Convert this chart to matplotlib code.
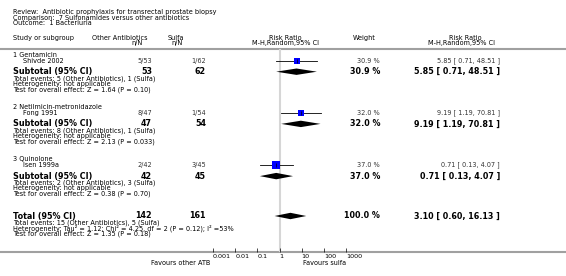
import numpy as np
import matplotlib.pyplot as plt

# ------------------------------------------------------------------
# datos
# ------------------------------------------------------------------
review = 'Review:  Antibiotic prophylaxis for transrectal prostate biopsy'
comparison = 'Comparison:  7 Sulfonamides versus other antibiotics'
outcome = 'Outcome:  1 Bacteriuria'

grupos = ['1 Gentamicin', '2 Netilmicin-metronidazole', '3 Quinolone']
estudios = ['Shivde 2002', 'Fong 1991', 'Isen 1999a']
ev_otros = [5, 8, 2]
n_otros = [53, 47, 42]
ev_sulfa = [1, 1, 3]
n_sulfa = [62, 54, 45]
rr = [5.85, 9.19, 0.71]
rr_lo = [0.71, 1.19, 0.13]
rr_hi = [48.51, 70.81, 4.07]
peso = [30.9, 32.0, 37.0]
z_val = ['1.64', '2.13', '0.38']
p_val = ['0.10', '0.033', '0.70']

tot_ev_otros, tot_n_otros = 15, 142
tot_ev_sulfa, tot_n_sulfa = 5, 161
tot_peso = 100.0
tot_rr, tot_lo, tot_hi = 3.10, 0.60, 16.13
tot_het = 'Heterogeneity: Tau\u00b2 = 1.12; Chi\u00b2 = 4.25, df = 2 (P = 0.12); I\u00b2 =53%'
tot_test = 'Test for overall effect: Z = 1.35 (P = 0.18)'

ticks = [0.001, 0.01, 0.1, 1, 10, 100, 1000]
tick_lbl = ['0.001', '0.01', '0.1', '1', '10', '100', '1000']

# ------------------------------------------------------------------
# figura
# ------------------------------------------------------------------
W, H = 566, 276
fig = plt.figure(figsize=(W / 100, H / 100), dpi=100)
plt.rcParams['font.family'] = 'DejaVu Sans'

bg = fig.add_axes([0, 0, 1, 1])
bg.set_xlim(0, W)
bg.set_ylim(H, 0)
bg.axis('off')

y_top, y_axis = 48.5, 252
x0, x1 = 213, 346
fa = fig.add_axes([x0 / W, (H - y_axis) / H, (x1 - x0) / W, (y_axis - y_top) / H])
fa.set_xscale('log')
fa.set_xlim(1e-3, 1e3)
fa.set_ylim(y_axis, y_top)
fa.patch.set_alpha(0)
for s in ['top', 'right', 'left', 'bottom']:
    fa.spines[s].set_visible(False)
fa.set_yticks([])
fa.set_xticks(ticks)
fa.set_xticklabels(tick_lbl, ha='left')
fa.minorticks_off()
fa.tick_params(axis='x', direction='in', length=3, width=0.5, pad=1.5,
               labelsize=4.6, colors='black')
fa.axvline(1, color='#d6d6d6', lw=1.5, zorder=0)

fs = 4.7
fsb = 5.8
gris = '#a0a0a0'

def txt(x, y, s, size=fs, bold=False, ha='left', color='black'):
    bg.text(x, y, s, fontsize=size, fontweight='bold' if bold else 'normal',
            ha=ha, va='center', color=color)

# cabecera
txt(13, 12.3, review)
txt(13, 17.7, comparison)
txt(13, 23.3, outcome)
txt(13, 37.7, 'Study or subgroup')
txt(148, 37.7, 'Other Antibiotics', ha='right')
txt(143, 42.7, 'n/N', ha='right')
txt(184, 37.7, 'Sulfa', ha='right')
txt(183, 42.7, 'n/N', ha='right')
txt(285, 37.7, 'Risk Ratio', ha='center')
txt(286, 42.7, 'M-H,Random,95% CI', ha='center')
txt(364, 37.7, 'Weight', ha='center')
txt(465, 37.7, 'Risk Ratio', ha='center')
txt(462, 42.7, 'M-H,Random,95% CI', ha='center')

bg.plot([0, W], [y_top, y_top], color=gris, lw=1.5, solid_capstyle='butt')
bg.plot([0, W], [y_axis, y_axis], color=gris, lw=1.5, solid_capstyle='butt')

def diamante(y, est, lo, hi, h=3.2):
    fa.fill([lo, est, hi, est], [y, y - h, y, y + h], color='black', lw=0, clip_on=False)

for i in range(len(grupos)):
    y0 = 55 + 52.2 * i
    ys = y0 + 5.7
    ysub = y0 + 16.7
    txt(13, y0, grupos[i])
    txt(23, ys, estudios[i])
    txt(152, ys, '%d/%d' % (ev_otros[i], n_otros[i]), ha='right', color='#333333')
    txt(206, ys, '%d/%d' % (ev_sulfa[i], n_sulfa[i]), ha='right', color='#333333')
    txt(380, ys, '%.1f %%' % peso[i], ha='right', color='#333333')
    txt(500, ys, '%.2f [ %.2f, %.2f ]' % (rr[i], rr_lo[i], rr_hi[i]), ha='right', color='#333333')

    fa.plot([rr_lo[i], rr_hi[i]], [ys, ys], color='black', lw=0.6, clip_on=False)
    fa.plot(rr[i], ys, marker='s', ms=peso[i] * 0.15, color='#0000ff', mew=0, clip_on=False)
    fa.plot(rr[i], ys, marker='|', ms=2.5, mew=0.5, color='black', clip_on=False)
    diamante(ysub, rr[i], rr_lo[i], rr_hi[i])

    txt(13, ysub, 'Subtotal (95% CI)', size=fsb, bold=True)
    txt(152, ysub, str(n_otros[i]), size=fsb, bold=True, ha='right')
    txt(206, ysub, str(n_sulfa[i]), size=fsb, bold=True, ha='right')
    txt(380, ysub, '%.1f %%' % peso[i], size=fsb, bold=True, ha='right')
    txt(500, ysub, '%.2f [ %.2f, %.2f ]' % (rr[i], rr_lo[i], rr_hi[i]), size=fsb, bold=True, ha='right')
    txt(13, y0 + 23.3, 'Total events: %d (Other Antibiotics), %d (Sulfa)' % (ev_otros[i], ev_sulfa[i]))
    txt(13, y0 + 29, 'Heterogeneity: not applicable')
    txt(13, y0 + 34.3, 'Test for overall effect: Z = %s (P = %s)' % (z_val[i], p_val[i]))

# total
yt = 216
txt(13, yt, 'Total (95% CI)', size=fsb, bold=True)
txt(152, yt, str(tot_n_otros), size=fsb, bold=True, ha='right')
txt(206, yt, str(tot_n_sulfa), size=fsb, bold=True, ha='right')
txt(380, yt, '%.1f %%' % tot_peso, size=fsb, bold=True, ha='right')
txt(500, yt, '%.2f [ %.2f, %.2f ]' % (tot_rr, tot_lo, tot_hi), size=fsb, bold=True, ha='right')
diamante(yt, tot_rr, tot_lo, tot_hi)
txt(13, yt + 6.4, 'Total events: %d (Other Antibiotics), %d (Sulfa)' % (tot_ev_otros, tot_ev_sulfa))
txt(13, yt + 12.3, tot_het)
txt(13, yt + 18, tot_test)

txt(181, 263.3, 'Favours other ATB', ha='center')
txt(325, 263.3, 'Favours sulfa', ha='center')

fig.savefig('out.png', dpi=100)
